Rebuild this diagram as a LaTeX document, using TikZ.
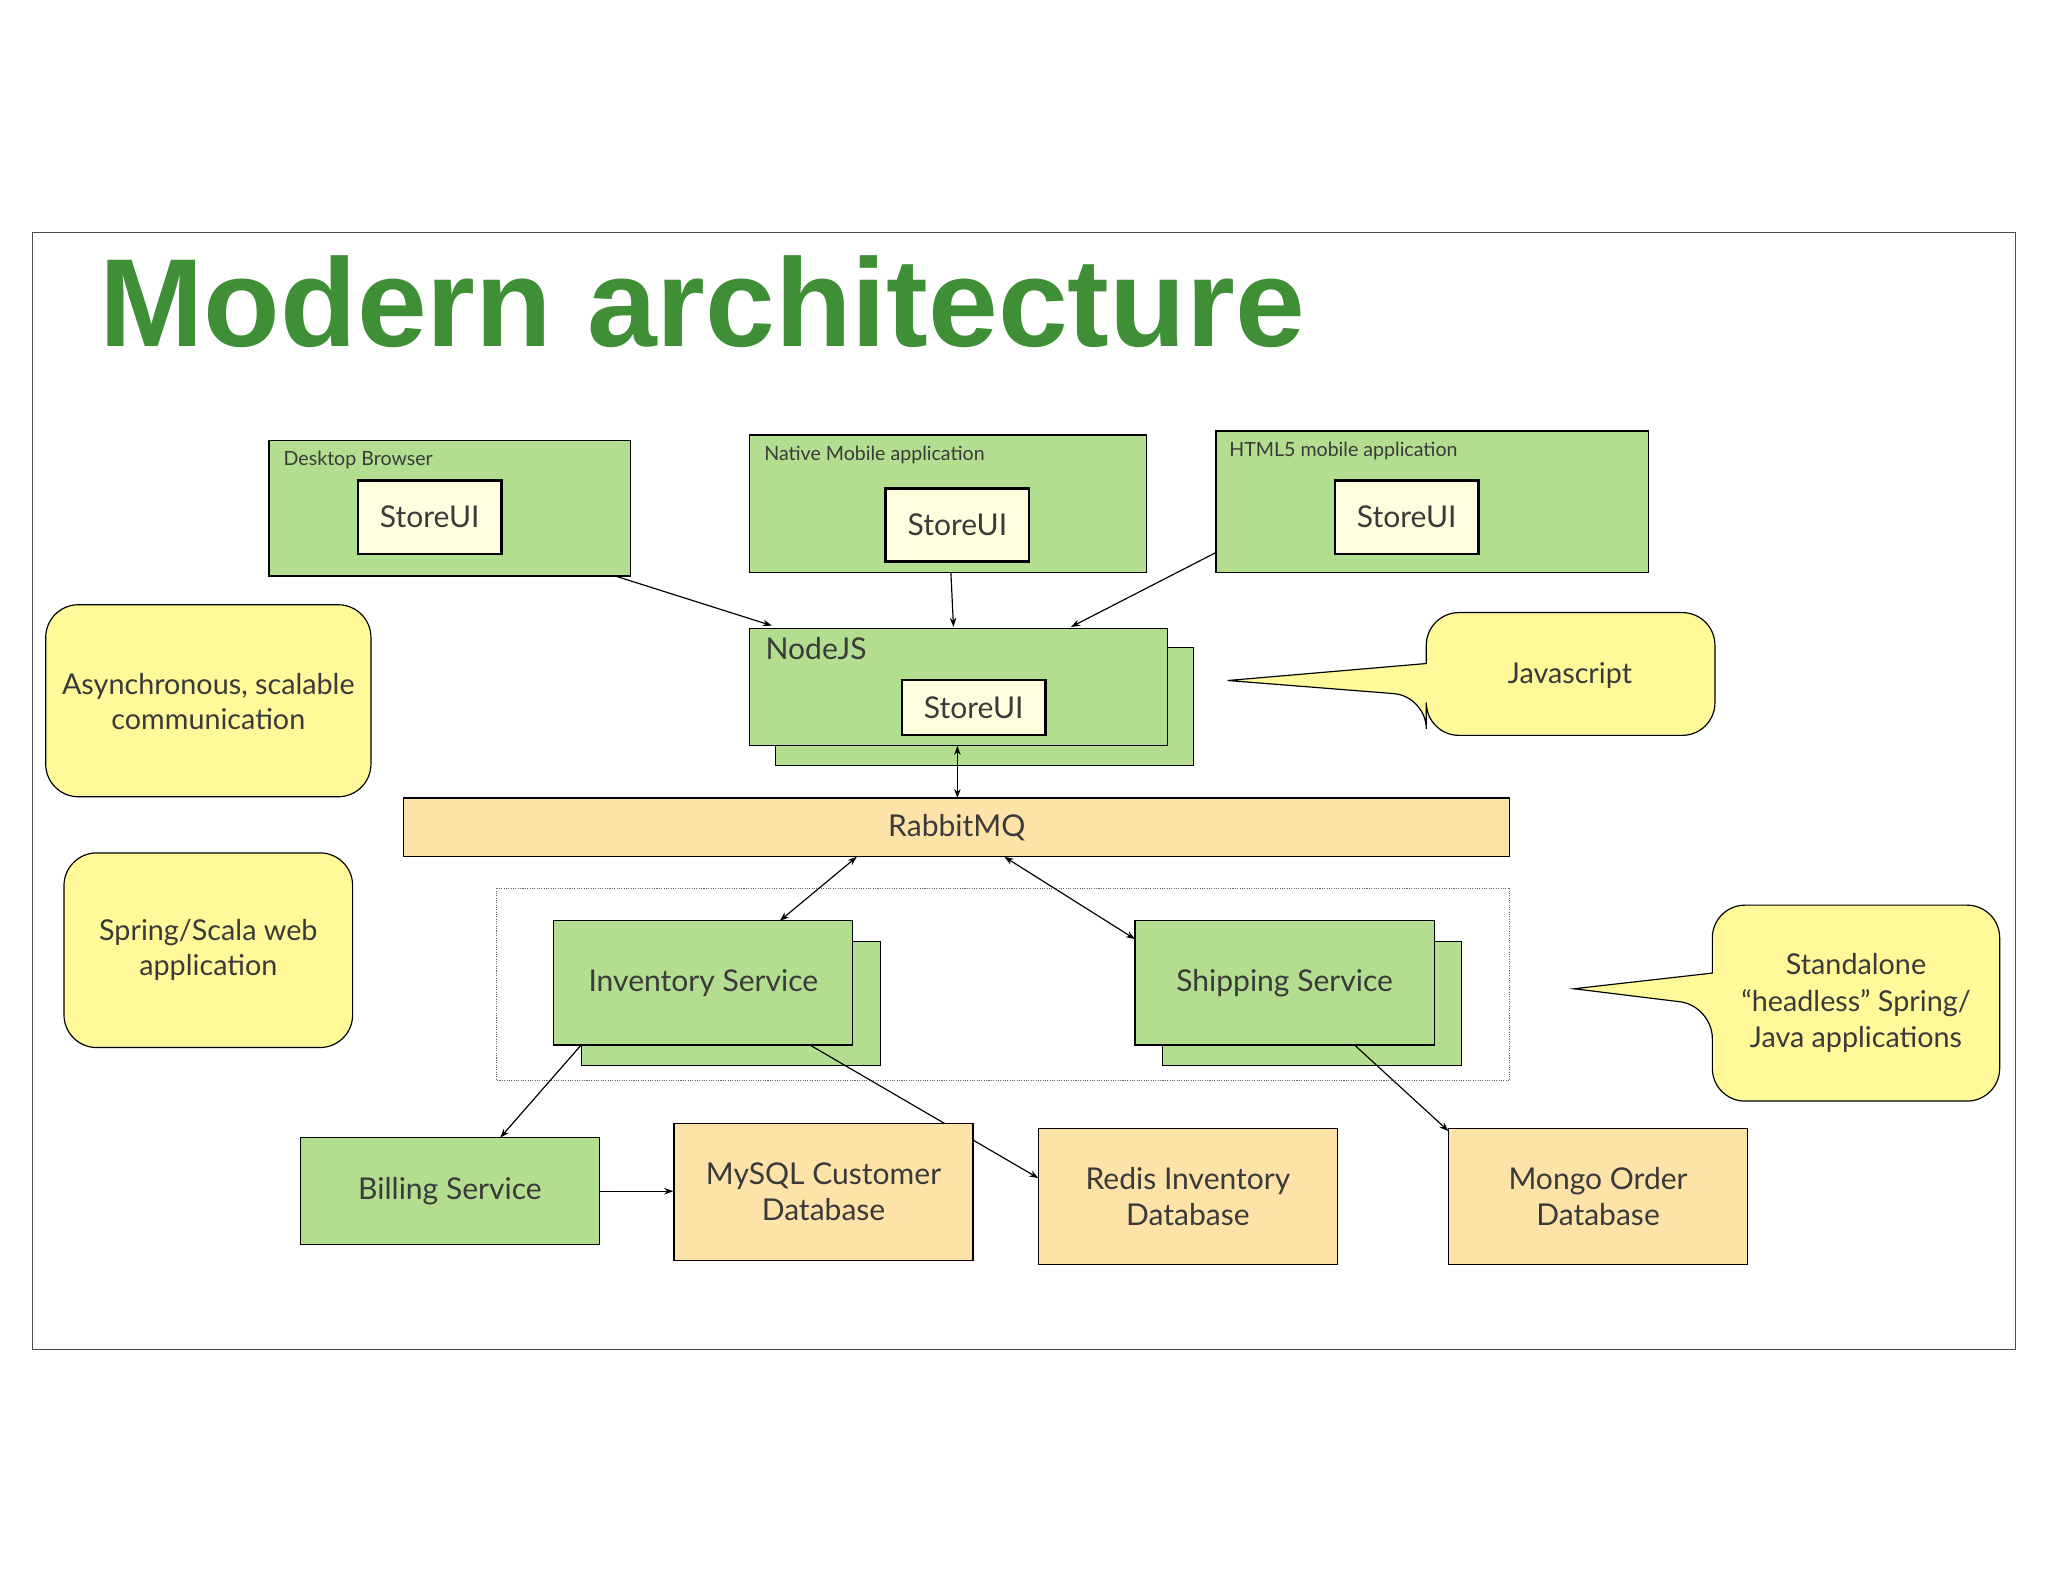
\documentclass[tikz,border=0pt]{standalone}
\usepackage{fontspec}
\setmainfont{Lato}
\newfontfamily\titlefont{Liberation Sans}
\usetikzlibrary{arrows.meta}
\definecolor{gr}{HTML}{B3DE8F}
\definecolor{ye}{HTML}{FFF99A}
\definecolor{su}{HTML}{FFFFE0}
\definecolor{orn}{HTML}{FDE3A7}
\definecolor{tg}{HTML}{3F8F37}
\definecolor{tx}{HTML}{3A3A3A}
\begin{document}
\begin{tikzpicture}[x=1pt,y=-1pt,
  box/.style={draw=black,line width=0.9pt,inner sep=0pt,text=tx},
  gbox/.style={box,fill=gr},
  obox/.style={box,fill=orn,align=center},
  sui/.style={box,fill=su,line width=1.8pt,minimum width=110,minimum height=56,font=\fontsize{23}{26}\selectfont},
  small/.style={font=\fontsize{15}{18}\selectfont,text=tx,anchor=north west,inner sep=0pt},
  big/.style={font=\fontsize{23}{28}\selectfont},
  call/.style={draw=black,line width=0.9pt,fill=ye,rounded corners=25},
  ctext/.style={font=\fontsize{22}{27}\selectfont,text=tx,align=center},
  arr/.style={-{Stealth[length=7pt,width=5pt]},line width=0.9pt},
  darr/.style={{Stealth[length=7pt,width=5pt]}-{Stealth[length=7pt,width=5pt]},line width=0.9pt}]
\useasboundingbox[fill=white] (0,0) rectangle (1568,1211);
\draw[line width=0.8pt,black!70] (25,178) rectangle (1543,1033);
\node[anchor=base west,inner sep=0pt,text=tg,font=\titlefont\bfseries\fontsize{96}{100}\selectfont] (title) at (76,265) {Modern architecture};

% clients
\node[gbox,minimum width=277,minimum height=104] (db) at (344.5,389) {};
\node[small] at (217,345) {Desktop Browser};
\node[sui] (s1) at (329,396) {StoreUI};
\node[gbox,minimum width=304,minimum height=105] (nm) at (726,385.5) {};
\node[small] at (585,341) {Native Mobile application};
\node[sui] (s2) at (733,402) {StoreUI};
\node[gbox,minimum width=331,minimum height=108] (h5) at (1096.5,384) {};
\node[small] at (941,338) {HTML5 mobile application};
\node[sui] (s3) at (1077,396) {StoreUI};

% NodeJS
\node[gbox,minimum width=320,minimum height=90] (nb) at (754,541) {};
\node[gbox,minimum width=320,minimum height=90] (nj) at (734,526) {};
\node[big,text=tx,anchor=north west,inner sep=0pt] (njl) at (586,488) {NodeJS};
\node[sui,minimum height=42] (s4) at (745.5,541.5) {StoreUI};

% callouts
\draw[call] (1092,508) -- (1092,469) -- (1313,469) -- (1313,563) -- (1092,563) -- (1092,533) [sharp corners] -- (940,521) -- cycle;
\node[ctext] (js) at (1202,517) {Javascript};
\draw[call] (35,463) rectangle (284,610);
\node[ctext] (as) at (159.5,537) {Asynchronous, scalable\\communication};
\draw[call] (49,653) rectangle (270,802);
\node[ctext] (sp) at (159.5,727) {Spring/Scala web\\application};
\draw[call] (1311,745) -- (1311,693) -- (1531,693) -- (1531,843) -- (1311,843) -- (1311,770) [sharp corners] -- (1205,757) -- cycle;
\node[ctext,font=\fontsize{22}{28}\selectfont] (sa) at (1421,768) {Standalone\\``headless'' Spring/\\Java applications};

% RabbitMQ
\node[obox,minimum width=847,minimum height=45,big] (rmq) at (732.5,633.5) {RabbitMQ};

% services
\draw[densely dotted,line width=0.8pt,black!60] (380,680) rectangle (1156,827);
\node[gbox,minimum width=229,minimum height=95] (ib) at (559.5,768.5) {};
\node[gbox,minimum width=229,minimum height=95,big] (inv) at (538.5,752.5) {Inventory Service};
\node[gbox,minimum width=229,minimum height=95] (sb) at (1004.5,768.5) {};
\node[gbox,minimum width=229,minimum height=95,big] (ship) at (983.5,752.5) {Shipping Service};

% bottom
\coordinate (ia) at (620,800);
\coordinate (rd) at (795,902);
\draw[arr] (ia) -- (rd);
\node[gbox,minimum width=229,minimum height=82,big] (bill) at (344.5,912) {Billing Service};
\node[obox,minimum width=229,minimum height=105,big] (my) at (630.5,912.5) {MySQL Customer\\Database};
\node[obox,minimum width=229,minimum height=104,big] (red) at (909.5,916) {Redis Inventory\\Database};
\node[obox,minimum width=229,minimum height=104,big] (mon) at (1223.5,916) {Mongo Order\\Database};

% connectors
\draw[arr] (db.south east) ++(-11,0) coordinate (d1) -- (591,479);
\draw[arr] (728,438) -- (730,480);
\draw[arr] (931,423) -- (820,480);
\draw[darr] (733,571) -- (733,611);
\draw[darr] (656,656) -- (597,705);
\draw[darr] (769,656) -- (869,719);
\draw[arr] (445,800) -- (383,871);
\draw[arr] (bill.east) -- (my.west |- bill.east);
\draw[arr] (1037,800) -- (1109,866);
\end{tikzpicture}
\end{document}
